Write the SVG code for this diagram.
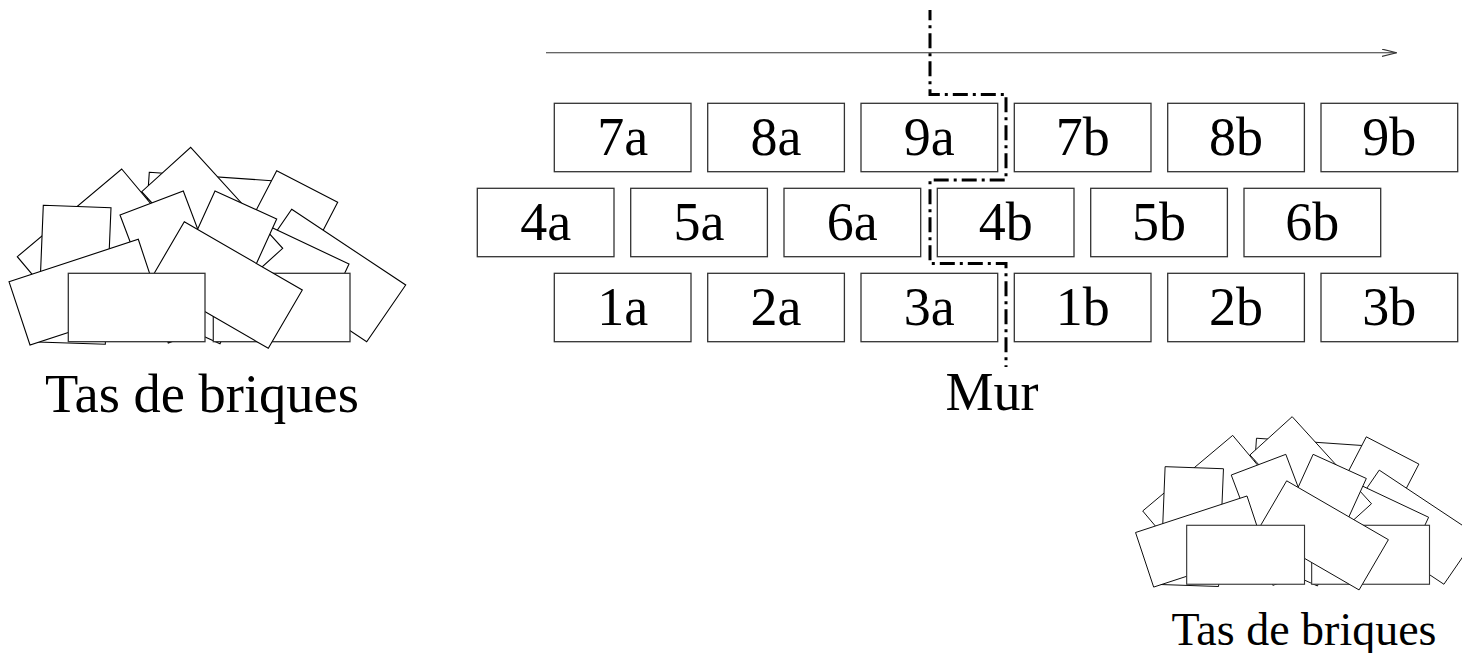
<svg xmlns="http://www.w3.org/2000/svg" xmlns:xlink="http://www.w3.org/1999/xlink" width="1462" height="653" viewBox="0 0 1462 653">
<style>
.brick{fill:#fff;stroke:#333;stroke-width:1.3}
.pb{fill:#fff;stroke:#000;stroke-width:1.1;stroke-linejoin:miter}
.lbl{font-family:"Liberation Serif","Times New Roman",serif;font-size:54px;fill:#000;text-anchor:middle}
.axis{fill:none;stroke:#333;stroke-width:1.1}
.cut{fill:none;stroke:#000;stroke-width:3;stroke-dasharray:15 5 3 5;stroke-dashoffset:4.7}
</style>
<defs>
<marker id="openArrow" markerWidth="16" markerHeight="10" refX="15" refY="4" orient="auto" markerUnits="userSpaceOnUse">
<path d="M0,0.3 L15,4 L0,7.7" fill="none" stroke="#333" stroke-width="1.1"/>
</marker>
<g id="pileShapes">
<polygon class="pb" points="149.3,172.3 285.7,181.7 281,249.3 144.7,240"/>
<polygon class="pb" points="276.7,170.7 337.7,202.3 274.7,323.7 213.7,292"/>
<polygon class="pb" points="291.7,209.3 405.7,285 366.7,341.7 252.7,266"/>
<polygon class="pb" points="225.3,205.7 349,264 320.3,325.3 196.7,267"/>
<polygon class="pb" points="190.7,147.3 282.7,248.3 233.7,292.7 141.7,191.7"/>
<polygon class="pb" points="121.7,169 165,220.7 60.7,308.3 17.3,256.7"/>
<polygon class="pb" points="43.3,205.3 111,207.7 105.3,344.3 37.7,342"/>
<polygon class="pb" points="120,215 183.3,191 231.7,319 168.3,343"/>
<polygon class="pb" points="215,191 276.7,219 220,343.7 158.3,315.7"/>
<polygon class="pb" points="9,281.7 138.3,239.3 159.3,302.7 30,345"/>
<rect class="brick" x="213.3" y="273.3" width="136.7" height="68.4"/>
<polygon class="pb" points="184.3,221.7 302.3,290 268.3,348.3 150.3,280"/>
<rect class="brick" x="68.3" y="273.3" width="136.7" height="68.4"/>
</g>
</defs>
<rect width="1462" height="653" fill="#fff"/>

<g id="pile-left">
<use xlink:href="#pileShapes" href="#pileShapes"/>
<text class="lbl" x="202" y="412" style="font-size:54.5px">Tas de briques</text>
</g>
<g id="pile-right">
<use xlink:href="#pileShapes" href="#pileShapes" transform="translate(1127.8,289.7) scale(0.862)"/>
<text class="lbl" x="1304" y="645" style="font-size:46px">Tas de briques</text>
</g>

<g id="wall">
<g id="b7a"><rect class="brick" x="554.3" y="103.3" width="136.7" height="68.4"/><text class="lbl" x="622.7" y="155">7a</text></g>
<g id="b8a"><rect class="brick" x="707.7" y="103.3" width="136.7" height="68.4"/><text class="lbl" x="776" y="155">8a</text></g>
<g id="b9a"><rect class="brick" x="861" y="103.3" width="136.7" height="68.4"/><text class="lbl" x="929.3" y="155">9a</text></g>
<g id="b7b"><rect class="brick" x="1014.3" y="103.3" width="136.7" height="68.4"/><text class="lbl" x="1082.7" y="155">7b</text></g>
<g id="b8b"><rect class="brick" x="1167.7" y="103.3" width="136.7" height="68.4"/><text class="lbl" x="1236" y="155">8b</text></g>
<g id="b9b"><rect class="brick" x="1321" y="103.3" width="136.7" height="68.4"/><text class="lbl" x="1389.3" y="155">9b</text></g>

<g id="b4a"><rect class="brick" x="477.3" y="188.3" width="136.7" height="68.4"/><text class="lbl" x="545.7" y="240">4a</text></g>
<g id="b5a"><rect class="brick" x="630.7" y="188.3" width="136.7" height="68.4"/><text class="lbl" x="699" y="240">5a</text></g>
<g id="b6a"><rect class="brick" x="784" y="188.3" width="136.7" height="68.4"/><text class="lbl" x="852.3" y="240">6a</text></g>
<g id="b4b"><rect class="brick" x="937.3" y="188.3" width="136.7" height="68.4"/><text class="lbl" x="1005.7" y="240">4b</text></g>
<g id="b5b"><rect class="brick" x="1090.7" y="188.3" width="136.7" height="68.4"/><text class="lbl" x="1159" y="240">5b</text></g>
<g id="b6b"><rect class="brick" x="1244" y="188.3" width="136.7" height="68.4"/><text class="lbl" x="1312.3" y="240">6b</text></g>

<g id="b1a"><rect class="brick" x="554.3" y="273.3" width="136.7" height="68.4"/><text class="lbl" x="622.7" y="325">1a</text></g>
<g id="b2a"><rect class="brick" x="707.7" y="273.3" width="136.7" height="68.4"/><text class="lbl" x="776" y="325">2a</text></g>
<g id="b3a"><rect class="brick" x="861" y="273.3" width="136.7" height="68.4"/><text class="lbl" x="929.3" y="325">3a</text></g>
<g id="b1b"><rect class="brick" x="1014.3" y="273.3" width="136.7" height="68.4"/><text class="lbl" x="1082.7" y="325">1b</text></g>
<g id="b2b"><rect class="brick" x="1167.7" y="273.3" width="136.7" height="68.4"/><text class="lbl" x="1236" y="325">2b</text></g>
<g id="b3b"><rect class="brick" x="1321" y="273.3" width="136.7" height="68.4"/><text class="lbl" x="1389.3" y="325">3b</text></g>
<text id="wall-label" class="lbl" x="992" y="410">Mur</text>
</g>

<g id="connectors">
<line class="axis" x1="546" y1="52.7" x2="1396.7" y2="52.7" marker-end="url(#openArrow)"/>
<path class="cut" d="M930,10 V94.5 H1006 V180 H930 V263.5 H1006 V367"/>
</g>
</svg>
